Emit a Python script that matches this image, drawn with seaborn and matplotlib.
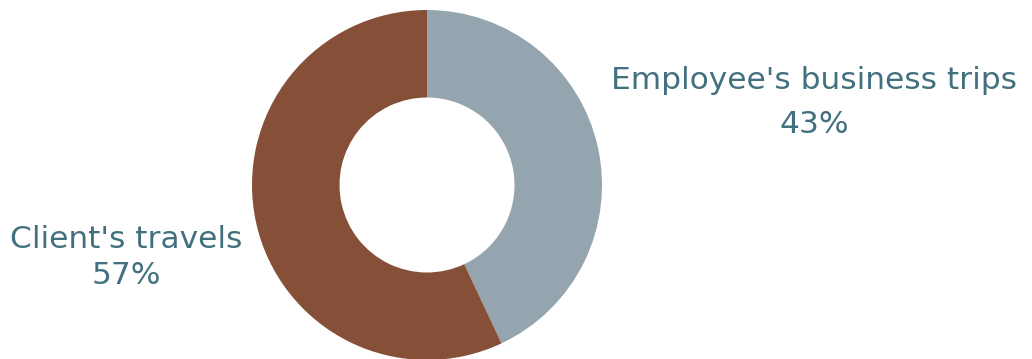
import matplotlib
matplotlib.use("Agg")
import matplotlib.pyplot as plt
import seaborn as sns

categories = ["Employee's business trips", "Client's travels"]
values = [43, 57]
colors = ["#95A5B0", "#854F38"]

sns.set_theme(style="white")
plt.rcParams['font.family'] = ['DejaVu Sans']

W, H = 1032, 359
fig = plt.figure(figsize=(W / 100, H / 100), dpi=100)
fig.patch.set_facecolor("white")

cx, cy, r = 427, 185, 175
ax = fig.add_axes([(cx - r) / W, (H - cy - r) / H, 2 * r / W, 2 * r / H])
ax.pie(values, colors=colors, startangle=90, counterclock=False,
       wedgeprops=dict(width=0.5, edgecolor="none"), radius=1)
ax.set_xlim(-1, 1)
ax.set_ylim(-1, 1)
ax.set_aspect("equal")
ax.axis("off")

txt_color = "#42707E"
fs = 22.5
# label positions in pixels: (center x, baseline line1, baseline line2)
pos = [(814, 89, 133), (126, 248, 284)]
for cat, val, (x, b1, b2) in zip(categories, values, pos):
    fig.text(x / W, 1 - b1 / H, cat, ha="center", va="baseline",
             fontsize=fs, color=txt_color)
    fig.text(x / W, 1 - b2 / H, f"{val}%", ha="center", va="baseline",
             fontsize=fs, color=txt_color)

fig.savefig("out.png", dpi=100, facecolor="white")
